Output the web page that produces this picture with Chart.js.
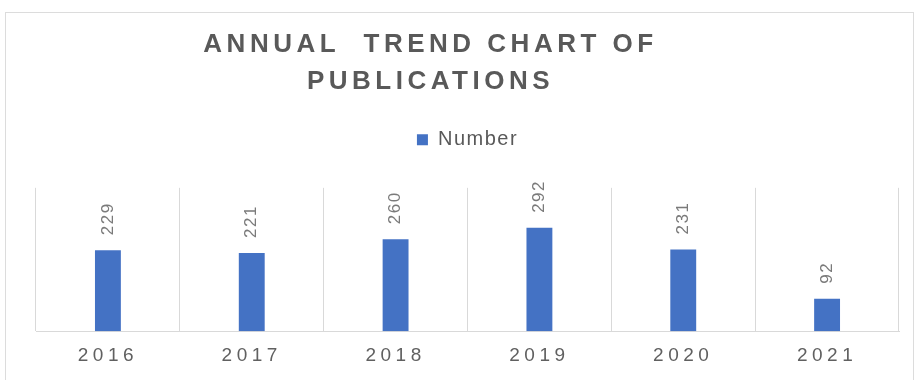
<!DOCTYPE html>
<html><head><meta charset="utf-8">
<script src="https://cdn.jsdelivr.net/npm/chart.js@4/dist/chart.umd.min.js"></script>
<style>
html,body{margin:0;padding:0;background:#fff;}
#wrap{position:relative;width:920px;height:380px;overflow:hidden;background:#fff;}
#frame{position:absolute;left:5px;top:12px;width:909px;height:420px;border:1px solid #dcdcdc;box-sizing:border-box;}
canvas{position:absolute;left:0;top:0;}
</style></head><body>
<div id="wrap"><div id="frame"></div><canvas id="c" width="920" height="380"></canvas></div>
<script>
const years = ['2016', '2017', '2018', '2019', '2020', '2021'];
const counts = [229, 221, 260, 292, 231, 92];
const seriesName = 'Number';
const titleLines = ['ANNUAL  TREND CHART OF', 'PUBLICATIONS'];
const yMax = 405;

const FONT = "'Liberation Sans', Arial, sans-serif";

const spacingPlugin = {
  id: 'spacing',
  beforeLayout(chart) {
    const ctx = chart.ctx;
    const t = chart.titleBlock;
    if (t && !t._wrapped) {
      const orig = t.draw;
      t.draw = function (...a) {
        ctx.save(); ctx.letterSpacing = '4.5px'; ctx.translate(-37, 0);
        orig.apply(this, a); ctx.restore();
      };
      t._wrapped = true;
    }
    const lg = chart.legend;
    if (lg && !lg._wrapped) {
      const of = lg.fit, od = lg.draw;
      lg.fit = function (...a) {
        ctx.save(); ctx.letterSpacing = '1.5px';
        of.apply(this, a); ctx.restore();
        this.height += 28;
      };
      lg.draw = function (...a) {
        ctx.save(); ctx.letterSpacing = '1.5px';
        od.apply(this, a); ctx.restore();
      };
      lg._wrapped = true;
    }
    const sx = chart.scales && chart.scales.x;
    if (sx && !sx._wrapped) {
      const dl = sx.drawLabels;
      sx.drawLabels = function (...a) {
        ctx.save(); ctx.letterSpacing = '4.5px';
        dl.apply(this, a); ctx.restore();
      };
      sx._wrapped = true;
    }
  }
};

const labelPlugin = {
  id: 'barLabels',
  afterDatasetsDraw(chart) {
    const ctx = chart.ctx;
    const meta = chart.getDatasetMeta(0);
    ctx.save();
    ctx.font = '17px ' + FONT;
    ctx.fillStyle = '#7a7a7a';
    ctx.letterSpacing = '1.5px';
    ctx.textAlign = 'left';
    ctx.textBaseline = 'middle';
    meta.data.forEach((bar, i) => {
      ctx.save();
      ctx.translate(bar.x, bar.y - 15);
      ctx.rotate(-Math.PI / 2);
      ctx.fillText(String(chart.data.datasets[0].data[i]), 0, 0);
      ctx.restore();
    });
    ctx.restore();
  }
};

new Chart(document.getElementById('c'), {
  type: 'bar',
  data: {
    labels: years,
    datasets: [{
      label: seriesName,
      data: counts,
      backgroundColor: '#4472C4',
      borderWidth: 0,
      categoryPercentage: 1,
      barPercentage: 0.18
    }]
  },
  options: {
    responsive: false,
    animation: false,
    devicePixelRatio: 1,
    layout: { padding: { left: 36, right: 21, top: 0, bottom: 0 } },
    plugins: {
      title: {
        display: true,
        text: titleLines,
        color: '#595959',
        font: { family: FONT, size: 26, weight: 'bold', lineHeight: 1.42 },
        padding: { top: 26, bottom: 2 }
      },
      legend: {
        display: true,
        position: 'top',
        labels: {
          color: '#595959',
          font: { family: FONT, size: 20 },
          boxWidth: 11,
          boxHeight: 11,
          padding: 28
        }
      },
      tooltip: { enabled: false }
    },
    scales: {
      x: {
        grid: { offset: true, color: '#d9d9d9', drawTicks: false, lineWidth: 1 },
        border: { color: '#d9d9d9' },
        ticks: { color: '#606060', font: { family: FONT, size: 19 }, padding: 13 }
      },
      y: { display: false, min: 0, max: yMax }
    }
  },
  plugins: [spacingPlugin, labelPlugin]
});
</script>
</body></html>
